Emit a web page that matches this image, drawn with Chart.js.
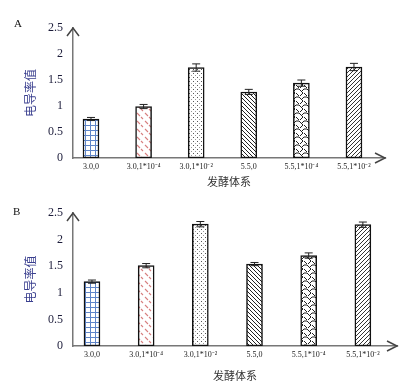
<!DOCTYPE html>
<html lang="zh">
<head>
  <meta charset="UTF-8" />
  <title>电导率值</title>
  <script src="https://cdn.jsdelivr.net/npm/chart.js"></script>
  <style>
    body { margin: 0; background: #fff; width: 403px; height: 386px; position: relative; overflow: hidden; }
    .panel { position: absolute; left: 0; width: 403px; }
    #boxA { top: 0; height: 192px; }
    #boxB { top: 192px; height: 194px; }
    .tag { position: absolute; font-family: 'Liberation Serif', serif; font-size: 11px; color: #111; }
  </style>
</head>
<body>
  <div class="panel" id="boxA"><canvas id="chartA"></canvas></div>
  <div class="panel" id="boxB"><canvas id="chartB"></canvas></div>
  <div class="tag" style="left:14px; top:17px;">A</div>
  <div class="tag" style="left:13px; top:205px;">B</div>

  <script>
    const categories = ['3.0,0', '3.0,1*10⁻⁴', '3.0,1*10⁻²', '5.5,0', '5.5,1*10⁻⁴', '5.5,1*10⁻²'];
    const valuesA = [0.75, 0.99, 1.74, 1.27, 1.44, 1.75];
    const errorsA = [0.03, 0.04, 0.07, 0.05, 0.06, 0.07];
    const valuesB = [1.21, 1.51, 2.29, 1.54, 1.70, 2.28];
    const errorsB = [0.03, 0.04, 0.05, 0.03, 0.05, 0.05];
    const yTicks = [0, 0.5, 1, 1.5, 2, 2.5];

    // little pattern tiles for the bar fills
    function tile(size, draw) {
      const c = document.createElement('canvas');
      c.width = size; c.height = size;
      const g = c.getContext('2d');
      g.fillStyle = '#fff';
      g.fillRect(0, 0, size, size);
      draw(g, size);
      return document.createElement('canvas').getContext('2d').createPattern(c, 'repeat');
    }

    function makePatterns() {
      return [
        tile(5, (g, s) => {           // blue grid
          g.fillStyle = '#5f85c8';
          g.fillRect(0, 0, s, 1);
          g.fillRect(0, 0, 1, s);
        }),
        tile(8, (g) => {              // red dashes
          g.strokeStyle = '#d77f7f';
          g.lineWidth = 1.1;
          g.beginPath(); g.moveTo(1, 1); g.lineTo(4, 4); g.stroke();
          g.beginPath(); g.moveTo(5, 5); g.lineTo(7, 7); g.stroke();
        }),
        tile(4, (g) => {              // dots
          g.fillStyle = '#555';
          g.fillRect(1, 1, 1, 1);
          g.fillStyle = '#999';
          g.fillRect(3, 3, 1, 1);
        }),
        tile(4, (g, s) => {           // back diagonal
          g.strokeStyle = '#222';
          g.lineWidth = 1;
          g.beginPath(); g.moveTo(-1, -1); g.lineTo(s + 1, s + 1); g.stroke();
          g.beginPath(); g.moveTo(-1, s - 1); g.lineTo(1, s + 1); g.stroke();
          g.beginPath(); g.moveTo(s - 1, -1); g.lineTo(s + 1, 1); g.stroke();
        }),
        tile(8, (g) => {              // rope / wave
          g.strokeStyle = '#222';
          g.lineWidth = 1;
          g.beginPath();
          g.moveTo(0, 1); g.lineTo(3, 1); g.lineTo(7, 5); g.lineTo(4, 8);
          g.moveTo(8, 1); g.lineTo(6, 3);
          g.moveTo(0, 5); g.lineTo(3, 8);
          g.stroke();
        }),
        tile(4, (g, s) => {           // forward diagonal
          g.strokeStyle = '#333';
          g.lineWidth = 1;
          g.beginPath(); g.moveTo(-1, s + 1); g.lineTo(s + 1, -1); g.stroke();
          g.beginPath(); g.moveTo(-1, 1); g.lineTo(1, -1); g.stroke();
          g.beginPath(); g.moveTo(s - 1, s + 1); g.lineTo(s + 1, s - 1); g.stroke();
        })
      ];
    }

    // axis arrow heads
    const arrows = {
      id: 'arrows',
      afterDraw(chart) {
        const ctx = chart.ctx;
        const area = chart.chartArea;
        ctx.save();
        ctx.strokeStyle = '#444';
        ctx.lineWidth = 1.5;
        ctx.beginPath();
        ctx.moveTo(area.left - 6, area.top + 8);
        ctx.lineTo(area.left, area.top);
        ctx.lineTo(area.left + 6, area.top + 8);
        ctx.moveTo(area.right - 10, area.bottom - 5);
        ctx.lineTo(area.right, area.bottom);
        ctx.lineTo(area.right - 10, area.bottom + 5);
        ctx.stroke();
        ctx.restore();
      }
    };

    const errorBars = {
      id: 'errorBars',
      afterDatasetsDraw(chart, args, opts) {
        const ctx = chart.ctx;
        const x = chart.scales.x, y = chart.scales.y;
        ctx.save();
        ctx.strokeStyle = '#222';
        ctx.lineWidth = 1;
        opts.errors.forEach((e, i) => {
          const v = chart.data.datasets[0].data[i].y;
          const px = x.getPixelForValue(i + 1);
          const t = y.getPixelForValue(v + e);
          const b = y.getPixelForValue(v - e);
          ctx.beginPath();
          ctx.moveTo(px, t); ctx.lineTo(px, b);
          ctx.moveTo(px - 4, t); ctx.lineTo(px + 4, t);
          ctx.moveTo(px - 4, b); ctx.lineTo(px + 4, b);
          ctx.stroke();
        });
        ctx.restore();
      }
    };

    function build(id, values, errors, xMin, xMax, padTop, padRight, xAxisHeight) {
      const patterns = makePatterns();
      return new Chart(document.getElementById(id), {
        type: 'bar',
        data: {
          datasets: [{
            data: values.map((v, i) => ({ x: i + 1, y: v })),
            backgroundColor: patterns,
            borderColor: '#111',
            borderWidth: 1.5,
            borderSkipped: false,
            barThickness: 16
          }]
        },
        options: {
          responsive: true,
          maintainAspectRatio: false,
          animation: false,
          layout: { padding: { left: 20, top: padTop, right: padRight, bottom: 0 } },
          plugins: {
            legend: { display: false },
            tooltip: { enabled: false },
            errorBars: { errors: errors }
          },
          scales: {
            x: {
              type: 'linear',
              offset: false,
              min: xMin,
              max: xMax,
              grid: { display: false, drawTicks: false },
              border: { display: true, color: '#777', width: 1.5 },
              afterBuildTicks: s => { s.ticks = categories.map((c, i) => ({ value: i + 1 })); },
              afterFit: s => { s.height = xAxisHeight; },
              ticks: {
                autoSkip: false,
                maxRotation: 0,
                padding: 4,
                color: '#222',
                font: { family: 'Liberation Serif', size: 8 },
                callback: v => categories[v - 1]
              },
              title: {
                display: true,
                text: '发酵体系',
                color: '#333',
                font: { family: 'Noto Sans CJK SC', size: 11 },
                padding: { top: 2, bottom: 4 }
              }
            },
            y: {
              min: 0,
              max: 2.5,
              grid: { display: false, drawTicks: false },
              border: { display: true, color: '#777', width: 1.5 },
              afterBuildTicks: s => { s.ticks = yTicks.map(v => ({ value: v })); },
              afterFit: s => { s.width = 53; },
              ticks: {
                padding: 10,
                color: '#1c1c3a',
                font: { family: 'Liberation Serif', size: 12 },
                callback: v => String(v)
              },
              title: {
                display: true,
                text: '电导率值',
                color: '#3a3f8f',
                font: { family: 'Noto Sans CJK SC', size: 12 },
                padding: { top: 3, bottom: 0 }
              }
            }
          }
        },
        plugins: [errorBars, arrows]
      });
    }

    build('chartA', valuesA, errorsA, 0.658, 6.59, 28, 18, 34);
    build('chartB', valuesB, errorsB, 0.65, 6.63, 21, 6, 40);
  </script>
</body>
</html>
